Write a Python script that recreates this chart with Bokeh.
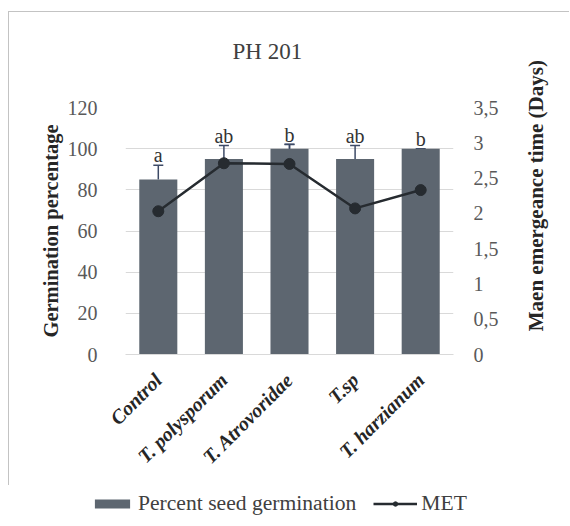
import math
from bokeh.plotting import figure
from bokeh.models import (FactorRange, Range1d, LinearAxis, FixedTicker, CustomJSTickFormatter,
                          Whisker, TeeHead, ColumnDataSource, Legend, LegendItem, Title)
from bokeh.core.properties import value
from bokeh.embed import file_html
from bokeh.resources import INLINE

categories = ["Control", "T. polysporum", "T. Atrovoridae", "T.sp", "T. harzianum"]
germination = [85, 95, 100, 95, 100]
germination_err = [7, 6.5, 2, 6.5, 0]
met = [2.03, 2.71, 2.70, 2.07, 2.33]
met_err = [0, 0.05, 0.28, 0.15, 0]
letters = ["a", "ab", "b", "ab", "b"]
left_ticks = [0, 20, 40, 60, 80, 100, 120]
right_ticks = [0, 0.5, 1, 1.5, 2, 2.5, 3, 3.5]
left_title = "Germination percentage"
right_title = "Maen emergeance time (Days)"
series_names = ["Percent seed germination", "MET"]

SERIF = "Liberation Serif"
BAR = "#5d6670"
LINE = "#262b30"
ERR = "#3d4a66"
GRID = "#d9d9d9"
TXT = "#595959"
DARK = "#262626"

src = ColumnDataSource(dict(
    cat=categories, g=germination,
    g_up=[g + e for g, e in zip(germination, germination_err)],
    met=met,
    m_up=[m + e for m, e in zip(met, met_err)],
    m_lo=[m - e for m, e in zip(met, met_err)],
    letters=letters,
))

bar_kw = dict(width=0.58, fill_color=BAR, line_color=None)
line_kw = dict(line_color=LINE, line_width=2.5)
mark_kw = dict(size=11, fill_color=LINE, line_color=LINE)

p = figure(x_range=FactorRange(*categories, range_padding=0), y_range=Range1d(0, 120),
           width=561, height=474, output_backend="svg", toolbar_location=None,
           min_border_left=116, min_border_right=117, min_border_top=95, min_border_bottom=132)
p.styles = {"border-left": "1px solid #c3c3c3", "border-top": "1px solid #c3c3c3",
            "margin-left": "8px", "margin-top": "11px"}
p.outline_line_color = None
p.extra_y_ranges = {"met": Range1d(0, 3.5)}

# bars
p.vbar(x="cat", top="g", source=src, **bar_kw)
p.add_layout(Whisker(base="cat", upper="g_up", lower="g", source=src, dimension="height",
                     line_color=ERR, line_width=1.5,
                     upper_head=TeeHead(size=10, line_color=ERR, line_width=1.5),
                     lower_head=None))

# MET line
p.line(x="cat", y="met", source=src, y_range_name="met", **line_kw)
p.add_layout(Whisker(base="cat", upper="m_up", lower="m_lo", source=src, dimension="height",
                     y_range_name="met", line_color=ERR, line_width=1.5,
                     upper_head=TeeHead(size=10, line_color=ERR, line_width=1.5),
                     lower_head=TeeHead(size=10, line_color=ERR, line_width=1.5)))
p.scatter(x="cat", y="met", source=src, y_range_name="met", **mark_kw)

# significance letters
p.text(x="cat", y="g_up", text="letters", source=src, text_align="center",
       text_baseline="bottom", y_offset=1, text_font=value(SERIF),
       text_font_size="20px", text_color="#333333")

# grid / left axis
p.xgrid.grid_line_color = None
p.ygrid.grid_line_color = GRID
p.ygrid.ticker = FixedTicker(ticks=left_ticks)

ya = p.yaxis[0]
ya.ticker = FixedTicker(ticks=left_ticks)
ya.axis_line_color = None
ya.major_tick_line_color = None
ya.minor_tick_line_color = None
ya.major_tick_out = 0
ya.major_label_standoff = 28
ya.major_label_text_font = SERIF
ya.major_label_text_font_size = "20px"
ya.major_label_text_color = TXT
ya.axis_label = left_title
ya.axis_label_text_font = SERIF
ya.axis_label_text_font_style = "bold"
ya.axis_label_text_font_size = "20.5px"
ya.axis_label_text_color = DARK
ya.axis_label_standoff = 3

# right value axis
ra = LinearAxis(y_range_name="met", ticker=FixedTicker(ticks=right_ticks),
                formatter=CustomJSTickFormatter(code="return tick.toString().replace('.', ',');"))
ra.axis_line_color = None
ra.major_tick_line_color = None
ra.minor_tick_line_color = None
ra.major_tick_out = 0
ra.major_label_standoff = 20
ra.major_label_text_font = SERIF
ra.major_label_text_font_size = "20px"
ra.major_label_text_color = TXT
p.add_layout(ra, "right")

# right axis title (reads bottom-to-top), drawn as the single label of an outer axis
rt = LinearAxis(y_range_name="met", ticker=FixedTicker(ticks=[0.33]),
                formatter=CustomJSTickFormatter(args=dict(t=right_title), code="return t;"))
rt.axis_line_color = None
rt.major_tick_line_color = None
rt.minor_tick_line_color = None
rt.major_tick_out = 0
rt.major_label_standoff = 35
rt.major_label_orientation = math.pi / 2
rt.major_label_text_font = SERIF
rt.major_label_text_font_style = "bold"
rt.major_label_text_font_size = "21px"
rt.major_label_text_color = DARK
p.add_layout(rt, "right")

# category axis
xa = p.xaxis[0]
xa.axis_line_color = GRID
xa.major_tick_line_color = None
xa.minor_tick_line_color = None
xa.major_tick_out = 0
xa.major_label_orientation = math.pi / 4
xa.major_label_standoff = 22
xa.major_label_text_font = SERIF
xa.major_label_text_font_style = "bold italic"
xa.major_label_text_font_size = "20px"
xa.major_label_text_color = DARK

# title (a blank spacer keeps it clear of the plot area)
p.add_layout(Title(text=" ", text_font_size="1px", standoff=41), "above")
p.add_layout(Title(text="PH 201", align="left", offset=107, text_font=SERIF,
                   text_font_style="normal", text_font_size="23px", text_color="#404040",
                   standoff=0), "above")

# legend strip (second root, same series glyphs kept out of its view)
lg = figure(width=570, height=40, x_range=FactorRange(*categories), y_range=Range1d(1000, 1001),
            output_backend="svg", toolbar_location=None, min_border=0)
lg.axis.visible = False
lg.grid.grid_line_color = None
lg.outline_line_color = None
r_bar = lg.vbar(x="cat", top="g", source=src, **bar_kw)
r_line = lg.line(x="cat", y="met", source=src, **line_kw)
r_mark = lg.scatter(x="cat", y="met", source=src, **mark_kw)
legend = Legend(items=[LegendItem(label=series_names[0], renderers=[r_bar]),
                       LegendItem(label=series_names[1], renderers=[r_line, r_mark])],
                orientation="horizontal", location=(90, 9),
                glyph_width=44, glyph_height=11, label_standoff=4, spacing=17,
                padding=0, margin=0, border_line_color=None, background_fill_alpha=0,
                label_text_font=SERIF, label_text_font_size="21.6px", label_text_color="#404040",
                label_height=21)
lg.add_layout(legend, "center")

open("out.html", "w").write(file_html([p, lg], INLINE))
